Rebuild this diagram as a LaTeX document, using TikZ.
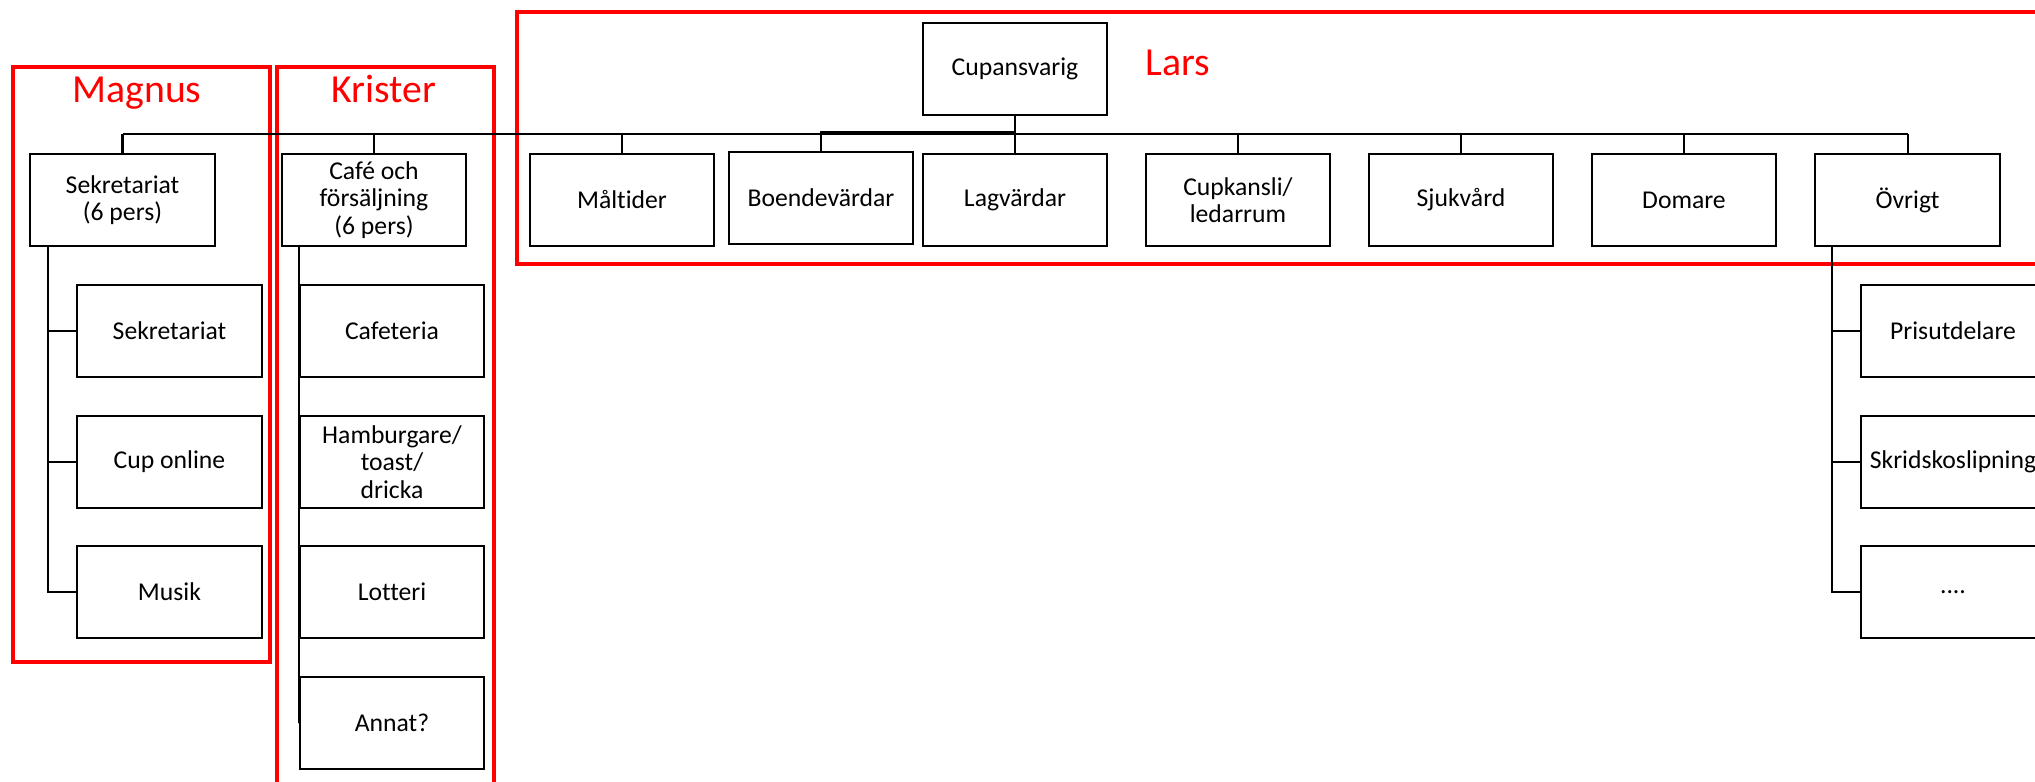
\documentclass[tikz,border=0pt]{standalone}
\usepackage{fontspec}
\setmainfont{Carlito}[Ligatures=NoCommon]

\begin{document}
\begin{tikzpicture}[
x=0.01cm, y=-0.01cm,
every edge/.style = {draw=black, line width=0.57pt},
 elbow/.style = {to path={|- (\tikztotarget)}},
 box/.style = {rectangle, draw, line width=0.57pt, fill=white,
      minimum width=1.84cm, minimum height=0.91cm, inner sep=1pt,
      align=center, font=\fontsize{7.3}{7.8}\selectfont},
 team/.style = {draw=red, line width=1.35pt},
 boss/.style = {text=red, anchor=base,
      font=\fontsize{11.3}{13}\selectfont}
                    ]
\useasboundingbox (0,0) rectangle (2035,782);
\clip (0,0) rectangle (2035,782);
 %
\draw[team] (13,67)  rectangle (270,662);
\draw[team] (277,67) rectangle (494,800);
\draw[team] (517,12) rectangle (2050,264);
\node (magnus)  [boss] at ( 137,103) {Magnus};
\node (krister) [boss] at ( 384,103) {Krister};
\node (lars)    [boss] at (1178, 76) {Lars};
 %
\node (cup)     [box] at (1015, 69) {Cupansvarig};
\node (sekr)    [box] at ( 122.5,200) {Sekretariat\\(6 pers)};
\node (cafe)    [box] at ( 374,200) {Café och\\försäljning\\(6 pers)};
\node (malt)    [box] at ( 622,200) {Måltider};
\node (boende)  [box] at ( 821,198) {Boendevärdar};
\node (lag)     [box] at (1015,200) {Lagvärdar};
\node (kansli)  [box] at (1238,200) {Cupkansli/\\ledarrum};
\node (sjuk)    [box] at (1461,200) {Sjukvård};
\node (dom)     [box] at (1684,200) {Domare};
\node (ovr)     [box] at (1907.5,200) {Övrigt};
 %
\node (sekrA)   [box] at ( 169.5,331) {Sekretariat};
\node (online)  [box] at ( 169.5,462) {Cup online};
\node (musik)   [box] at ( 169.5,592) {Musik};
\node (cafeA)   [box] at ( 392,331) {Cafeteria};
\node (burger)  [box] at ( 392,462) {Hamburgare/\\toast/\\dricka};
\node (lotteri) [box] at ( 392,592) {Lotteri};
\node (annat)   [box] at ( 392,723) {Annat?};
\node (pris)    [box] at (1953,331) {Prisutdelare};
\node (slip)    [box] at (1953,462) {Skridskoslipning};
\node (mer)     [box] at (1953,592) {....};
 %
\coordinate (bus)  at (1015,134);
\coordinate (bus2) at (1015,132);
\path   (cup) edge (lag)
        (boende.north) edge[elbow] (bus2)
        (sekr.north |- bus) edge (ovr.north |- bus);
\foreach \n in {sekr,cafe,malt,kansli,sjuk,dom,ovr}
    \path (\n.north) edge (\n.north |- bus);
\path   ([xshift=0.19cm]sekr.south west) edge[elbow] (sekrA.west)
        ([xshift=0.19cm]sekr.south west) edge[elbow] (online.west)
        ([xshift=0.19cm]sekr.south west) edge[elbow] (musik.west)
        ([xshift=0.18cm]cafe.south west) edge[elbow] (annat.west)
        ([xshift=0.175cm]ovr.south west) edge[elbow] (pris.west)
        ([xshift=0.175cm]ovr.south west) edge[elbow] (slip.west)
        ([xshift=0.175cm]ovr.south west) edge[elbow] (mer.west);
\end{tikzpicture}
\end{document}
